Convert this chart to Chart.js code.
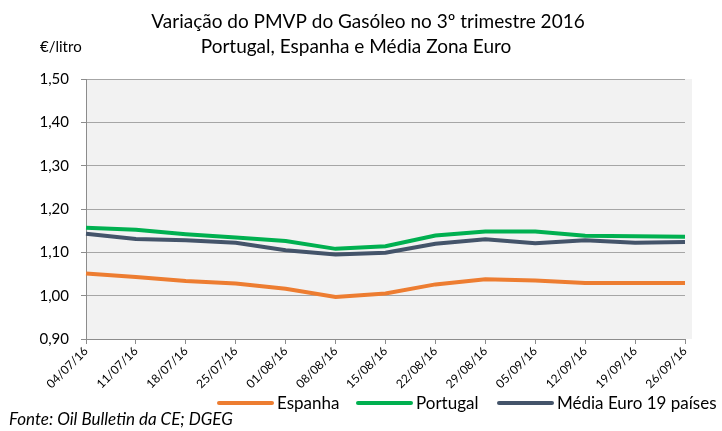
<!DOCTYPE html>
<html><head><meta charset="utf-8">
<script src="https://cdn.jsdelivr.net/npm/chart.js@4/dist/chart.umd.min.js"></script>
<style>html,body{margin:0;padding:0;background:#fff}#wrap{width:722px;height:431px;position:relative}</style>
</head><body><div id="wrap"><canvas id="c" width="722" height="431"></canvas></div>
<script>
const categories = ["04/07/16","11/07/16","18/07/16","25/07/16","01/08/16","08/08/16","15/08/16","22/08/16","29/08/16","05/09/16","12/09/16","19/09/16","26/09/16"];
const espanha  = [1.051,1.043,1.034,1.028,1.016,0.997,1.005,1.026,1.038,1.035,1.029,1.029,1.029];
const portugal = [1.157,1.152,1.142,1.134,1.126,1.108,1.114,1.139,1.148,1.148,1.138,1.137,1.136];
const media    = [1.143,1.131,1.128,1.122,1.105,1.095,1.099,1.120,1.130,1.121,1.128,1.122,1.124];
const seriesNames = ["Espanha","Portugal","Média Euro 19 países"];
const titleLines = ["Variação do PMVP do Gasóleo no 3º trimestre 2016","Portugal, Espanha e Média Zona Euro"];
const yUnit = "€/litro";
const sourceNote = "Fonte: Oil Bulletin da CE; DGEG";
const colors = ["#ED7D31","#00B050","#44546A"];
const FONT = "Lato";

const deco = {
  id:'deco',
  beforeDraw(chart){
    const {ctx, chartArea:a} = chart;
    ctx.save();
    ctx.fillStyle = '#F2F2F2';
    ctx.fillRect(a.left, a.top, a.right - a.left + 7, a.bottom - a.top);
    ctx.restore();
  },
  afterDraw(chart){
    const ctx = chart.ctx;
    ctx.save();
    ctx.fillStyle = '#000';
    ctx.textAlign = 'center';
    ctx.textBaseline = 'middle';
    ctx.font = `19px ${FONT}`;
    ctx.fillText(titleLines[0], 368, 22);
    ctx.fillText(titleLines[1], 356, 47);
    ctx.textAlign = 'left';
    ctx.font = `15px ${FONT}`;
    ctx.fillText(yUnit, 40, 47);
    // legend
    const starts = [219, 358, 499];
    ctx.font = `17px ${FONT}`;
    chart.data.datasets.forEach((ds, i) => {
      ctx.strokeStyle = ds.borderColor;
      ctx.lineWidth = 4;
      ctx.lineCap = 'round';
      ctx.beginPath();
      ctx.moveTo(starts[i], 403);
      ctx.lineTo(starts[i] + 53, 403);
      ctx.stroke();
      ctx.fillStyle = '#000';
      ctx.fillText(ds.label, starts[i] + 58, 404);
    });
    ctx.font = `italic 17px ${FONT}`;
    ctx.fillText(sourceNote, 9, 420);
    ctx.restore();
  }
};

new Chart(document.getElementById('c'), {
  type: 'line',
  data: {
    labels: categories,
    datasets: [espanha, portugal, media].map((d, i) => ({
      label: seriesNames[i], data: d, borderColor: colors[i], backgroundColor: colors[i],
      borderWidth: 4, pointRadius: 0, tension: 0, fill: false
    }))
  },
  options: {
    responsive: false, animation: false,
    layout: { padding: { left: 0, right: 37, top: 79, bottom: 0 } },
    plugins: { legend: { display: false }, title: { display: false }, tooltip: { enabled: false } },
    scales: {
      x: {
        offset: false,
        grid: { drawOnChartArea: false, drawTicks: true, tickLength: 5, color: '#8C8C8C' },
        border: { color: '#8C8C8C', width: 1 },
        ticks: { autoSkip: false, maxRotation: 45, minRotation: 45, color: '#000', font: { family: FONT, size: 12 }, padding: 0 },
        afterFit(s){ s.height = 92; }
      },
      y: {
        min: 0.9, max: 1.5,
        grid: { color: '#A6A6A6', borderDash: [4,3], tickBorderDash: [], tickColor: '#8C8C8C', tickLength: 5, drawTicks: true },
        border: { color: '#8C8C8C', width: 1, dash: [] },
        ticks: { stepSize: 0.1, color: '#000', font: { family: FONT, size: 15 }, padding: 12,
          callback: v => v.toFixed(2).replace('.', ',') },
        afterFit(s){ s.width = 86; }
      }
    }
  },
  plugins: [deco]
});
</script></body></html>
